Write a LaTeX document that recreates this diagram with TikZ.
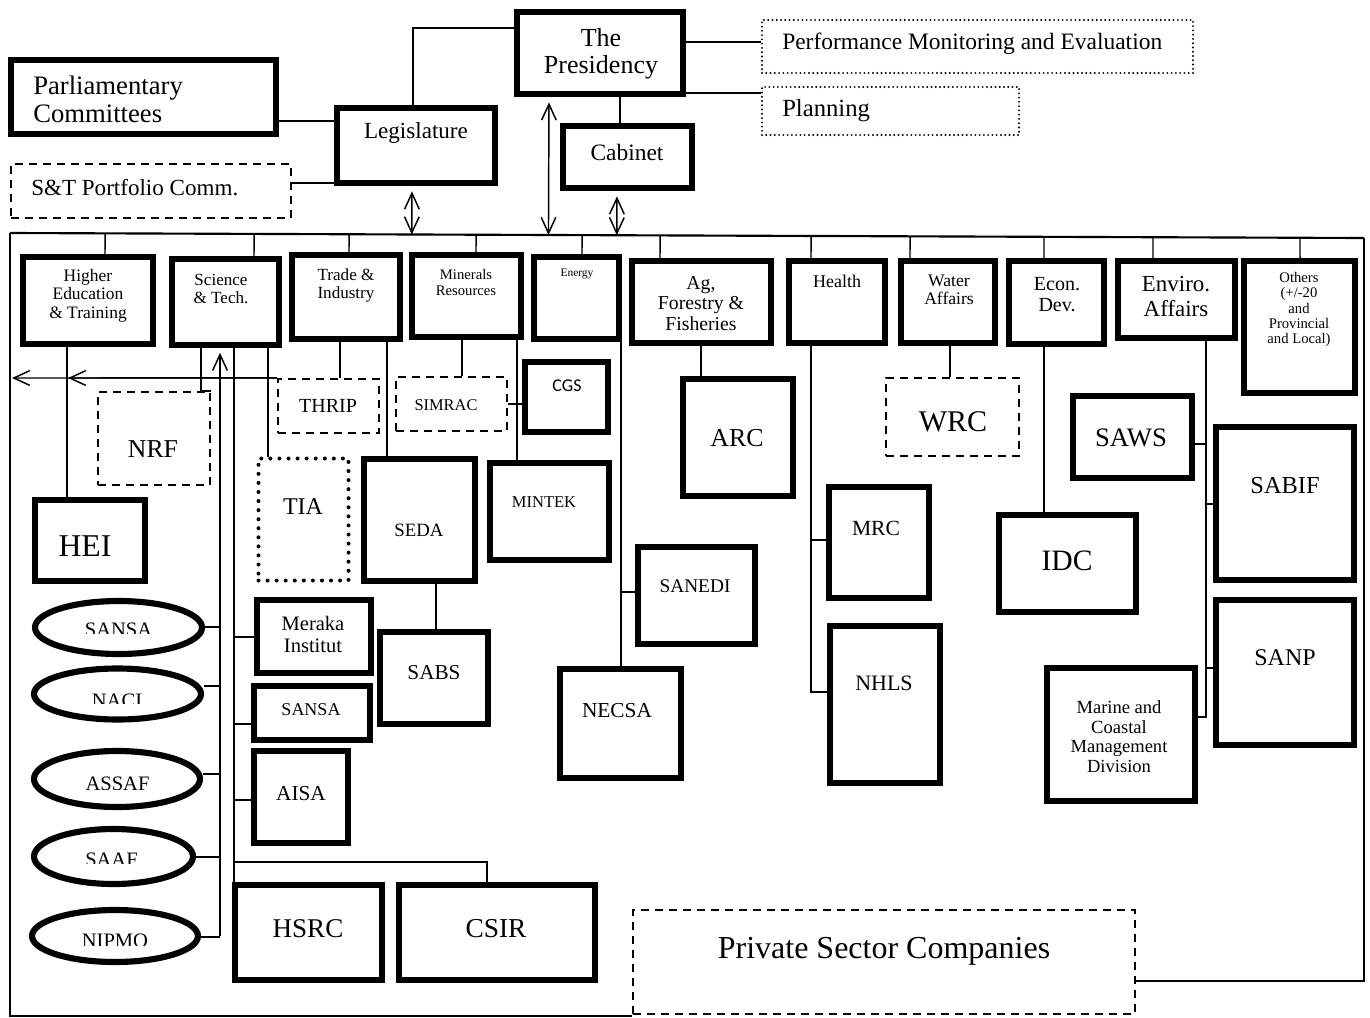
\documentclass[tikz,border=0pt]{standalone}
\usepackage{fontspec}
\setmainfont{Liberation Serif}
\newfontfamily\cgsfont{Carlito}
\usetikzlibrary{arrows.meta,calc,shapes.geometric}
\newcommand{\fz}[1]{\fontsize{#1pt}{\fpeval{#1*1.05}pt}\selectfont}
\newcommand{\bx}[7]{%
  \pgfmathsetmacro{\bxcx}{(#2+#4)/2}%
  \pgfmathsetmacro{\bxcy}{(#3+#5)/2}%
  \pgfmathsetmacro{\bxw}{(#4-#2-#7)*0.75}%
  \pgfmathsetmacro{\bxh}{(#5-#3-#7)*0.75}%
  \node[#6, minimum width=\bxw pt, minimum height=\bxh pt] (#1) at (\bxcx,\bxcy) {};}
\newcommand{\tx}[5]{\node[txt,#4] (#1) at (#2,#3) {#5};}
\newcommand{\elp}[5]{\node[elb, minimum width=\fpeval{#4*0.75}pt, minimum height=\fpeval{#5*0.75}pt] (#1) at (#2,#3) {};}
\newcommand{\tick}[2]{\coordinate (tmp) at (#1.north -| #2,0);
  \draw[ln] (tmp) -- ($(busL)!(tmp)!(busR)$);}
% name, text top y, visible px, centre x, text
\newcommand{\cliptext}[5]{\begin{scope}\clip (40,\fpeval{#2-4}) rectangle (200,\fpeval{#2+#3});
  \node[txt,font=\fz{15.4},anchor=north] (#1) at (#4,#2) {#5};\end{scope}}
\tikzset{
 tb/.style={draw, line width=4.6pt, inner sep=0pt},
 db/.style={draw, line width=1.6pt, dash pattern=on 6pt off 4.5pt, inner sep=0pt},
 ob/.style={draw, line width=1.6pt, line cap=round, dash pattern=on 0pt off 3.2pt, inner sep=0pt},
 obb/.style={draw, line width=3pt, line cap=round, dash pattern=on 0pt off 6.8pt, inner sep=0pt},
 elb/.style={draw, ellipse, line width=4.6pt, inner sep=0pt},
 ln/.style={line width=1.1pt},
 txt/.style={inner sep=0pt, align=center},
}
\begin{document}
\begin{tikzpicture}[x=0.75pt,y=-0.75pt,>={Straight Barb[length=12pt,width=11pt]}]
\useasboundingbox (0,0) rectangle (1370,1017);
\fill[white] (0,0) rectangle (1370,1017);

% ---------- top level boxes ----------
\bx{pres}{514}{9}{686}{97}{tb}{6}
\bx{pme}{761}{19}{1194}{74}{ob}{2}
\bx{plan}{761}{86}{1020}{136}{ob}{2}
\bx{parl}{8}{57}{279}{137}{tb}{6}
\bx{leg}{334}{105}{498}{186}{tb}{6}
\bx{cab}{560}{123}{695}{191}{tb}{6}
\bx{stp}{10}{163}{292}{219}{db}{2}

\tx{pres-t}{601}{53.5}{font=\fz{19.5}}{The\\Presidency}
\tx{pme-t}{782}{44}{font=\fz{17.6},anchor=west}{Performance Monitoring and Evaluation}
\tx{plan-t}{782}{111}{font=\fz{18.5},anchor=west}{Planning}
\tx{parl-t}{33}{99.5}{font=\fz{20},anchor=west,align=left}{Parliamentary\\Committees}
\tx{leg-t}{416}{133}{font=\fz{17.3}}{Legislature}
\tx{cab-t}{627}{152}{font=\fz{17.6}}{Cabinet}
\tx{stp-t}{31}{188}{font=\fz{17.3},anchor=west}{S\&T Portfolio Comm.}

% ---------- departments ----------
\bx{hed}{20}{254}{156}{347}{tb}{6}
\bx{st}{169}{256}{282}{348}{tb}{6}
\bx{ti}{289}{252}{403}{342}{tb}{6}
\bx{min}{409}{252}{524}{340}{tb}{6}
\bx{en}{531}{254}{622}{342}{tb}{6}
\bx{ag}{629}{258}{774}{346}{tb}{6}
\bx{hl}{786}{258}{888}{346}{tb}{6}
\bx{wa}{898}{258}{998}{346}{tb}{6}
\bx{ed}{1006}{258}{1107}{347}{tb}{6}
\bx{env}{1115}{258}{1238}{341}{tb}{6}
\bx{oth}{1241}{258}{1358}{396}{tb}{6}

\tx{hed-t}{88}{295.5}{font=\fz{13.1}}{Higher\\Education\\\& Training}
\tx{st-t}{221}{289}{font=\fz{12.8}}{Science\\\& Tech.}
\tx{ti-t}{346}{285.5}{font=\fz{12.8}}{Trade \&\\Industry}
\tx{min-t}{466}{282.5}{font=\fz{11}}{Minerals\\Resources}
\tx{en-t}{577}{274}{font=\fz{8.6}}{Energy}
\tx{ag-t}{701}{303.5}{font=\fz{14.8}}{Ag,\\Forestry \&\\Fisheries}
\tx{hl-t}{837}{281}{font=\fz{13.5}}{Health}
\tx{wa-t}{949}{290}{font=\fz{13.2}}{Water\\Affairs}
\tx{ed-t}{1057}{294.5}{font=\fz{15}}{Econ.\\Dev.}
\tx{env-t}{1176}{296.5}{font=\fz{17.2}}{Enviro.\\Affairs}
\tx{oth-t}{1299}{309.5}{font=\fz{11}}{Others\\(+/-20\\and\\Provincial\\and Local)}

% ---------- agencies ----------
\bx{hei}{32}{497}{148}{584}{tb}{6}
\bx{nrf}{97}{391}{211}{486}{db}{2}
\bx{tia}{257}{457}{350}{582}{obb}{3}
\bx{thrip}{277}{378}{380}{434}{db}{2}
\bx{simrac}{395}{376}{508}{432}{db}{2}
\bx{cgs}{522}{359}{611}{435}{tb}{6}
\bx{seda}{361}{456}{478}{584}{tb}{6}
\bx{mintek}{487}{460}{612}{563}{tb}{6}
\bx{sanedi}{635}{544}{758}{647}{tb}{6}
\bx{necsa}{557}{666}{684}{781}{tb}{6}
\bx{arc}{680}{376}{796}{499}{tb}{6}
\bx{mrc}{826}{484}{932}{601}{tb}{6}
\bx{nhls}{827}{623}{943}{786}{tb}{6}
\bx{wrc}{885}{377}{1020}{457}{db}{2}
\bx{idc}{996}{512}{1139}{615}{tb}{6}
\bx{saws}{1070}{393}{1195}{481}{tb}{6}
\bx{sabif}{1213}{424}{1357}{583}{tb}{6}
\bx{sanp}{1213}{597}{1357}{748}{tb}{6}
\bx{mcm}{1044}{665}{1198}{804}{tb}{6}
\bx{sabs}{377}{629}{491}{727}{tb}{6}
\bx{mer}{254}{597}{374}{676}{tb}{6}
\bx{sansab}{251}{683}{373}{743}{tb}{6}
\bx{aisa}{251}{748}{351}{846}{tb}{6}
\bx{hsrc}{232}{882}{385}{983}{tb}{6}
\bx{csir}{396}{882}{598}{983}{tb}{6}
\bx{psc}{632}{909}{1136}{1015}{db}{2}

\tx{hei-t}{85}{546}{font=\fz{23.8}}{HEI}
\tx{nrf-t}{153}{449}{font=\fz{19.3}}{NRF}
\tx{tia-t}{303}{507}{font=\fz{18}}{TIA}
\tx{thrip-t}{328}{406}{font=\fz{15}}{THRIP}
\tx{simrac-t}{446}{405}{font=\fz{12.3}}{SIMRAC}
\tx{cgs-t}{567}{386}{font=\cgsfont\fz{13.5}}{CGS}
\tx{seda-t}{419}{530}{font=\fz{14.1}}{SEDA}
\tx{mintek-t}{544}{502}{font=\fz{12.4}}{MINTEK}
\tx{sanedi-t}{695}{586}{font=\fz{14.5}}{SANEDI}
\tx{necsa-t}{617}{711}{font=\fz{16}}{NECSA}
\tx{arc-t}{737}{438}{font=\fz{19.4}}{ARC}
\tx{mrc-t}{876}{528}{font=\fz{16.2}}{MRC}
\tx{nhls-t}{884}{683}{font=\fz{16.5}}{NHLS}
\tx{wrc-t}{953}{422}{font=\fz{22.5}}{WRC}
\tx{idc-t}{1067}{561}{font=\fz{22.2}}{IDC}
\tx{saws-t}{1131}{438}{font=\fz{20}}{SAWS}
\tx{sabif-t}{1285}{486}{font=\fz{18.3}}{SABIF}
\tx{sanp-t}{1285}{658}{font=\fz{18}}{SANP}
\tx{mcm-t}{1119}{736.5}{font=\fz{13.9}}{Marine and\\Coastal\\Management\\Division}
\tx{sabs-t}{434}{673}{font=\fz{15.9}}{SABS}
\tx{mer-t}{313}{634.5}{font=\fz{15.4}}{Meraka\\Institut}
\tx{sansab-t}{311}{710}{font=\fz{13.5}}{SANSA}
\tx{aisa-t}{301}{794}{font=\fz{16}}{AISA}
\tx{hsrc-t}{308}{929}{font=\fz{20.3}}{HSRC}
\tx{csir-t}{496}{929}{font=\fz{20.5}}{CSIR}
\tx{psc-t}{884}{951}{font=\fz{24}}{Private Sector Companies}

% ---------- ellipses ----------
\elp{esansa}{118.5}{627.5}{167}{53}
\elp{enaci}{117.5}{694}{167}{51}
\elp{eassaf}{117}{779}{166}{56}
\elp{esaaf}{113.5}{856.5}{159}{55}
\elp{enipmo}{115}{936}{166}{52}
\cliptext{esansa-t}{623}{10}{118.5}{SANSA}
\cliptext{enaci-t}{694}{9}{117}{NACI}
\cliptext{eassaf-t}{777}{12}{117.5}{ASSAF}
\cliptext{esaaf-t}{853}{10}{111.5}{SAAF}
\cliptext{enipmo-t}{934}{11}{115}{NIPMO}

% ---------- frame ----------
\coordinate (busL) at (10,233);
\coordinate (busR) at (1364,238);
\draw[line width=1.6pt] (busL) -- (busR);
\draw[ln] (busL) -- (10,1016) -- (psc.west |- 0,1016);
\draw[ln] (busR) -- (1364,981) -- (psc.east |- 0,981);

% ---------- top connectors ----------
\draw[ln] (pres.west |- 0,28) -| (leg.north -| 413,0);
\draw[ln] (parl.east |- 0,121) -- (leg.west |- 0,121);
\draw[ln] (stp.east |- 0,183) -- (leg.west |- 0,183);
\draw[ln] (pres.east |- 0,42) -- (pme.west |- 0,42);
\draw[ln] (pres.east |- 0,93) -- (plan.west |- 0,93);
\draw[ln] (pres.south -| 620,0) -- (cab.north -| 620,0);
\coordinate (tmp) at (leg.south -| 412,0);
\draw[ln,<->,shorten <=4pt] (tmp) -- ($(busL)!(tmp)!(busR)$);
\coordinate (tmp) at (pres.south -| 549,0);
\draw[ln,<->,shorten <=4pt] (tmp) -- ($(busL)!(tmp)!(busR)$);
\coordinate (tmp) at (cab.south -| 617,0);
\draw[ln,<->,shorten <=4pt] (tmp) -- ($(busL)!(tmp)!(busR)$);

% ---------- department ticks ----------
\tick{hed}{105}
\tick{st}{254}
\tick{ti}{349}
\tick{min}{476}
\tick{en}{582}
\tick{ag}{660}
\tick{hl}{811}
\tick{wa}{910}
\tick{ed}{1044}
\tick{env}{1153}
\tick{oth}{1300}

% ---------- agency connectors ----------
\coordinate (arrL) at (12,378);
\coordinate (arrM) at (68,378);
\draw[ln,->] (thrip.north west) -- (arrL);
\draw[ln,->] (thrip.north west) -- (arrM);
\draw[ln] (hed.south -| 67,0) -- (hei.north -| 67,0);
% Science & Tech
\draw[ln] (st.south -| 201,0) |- (nrf.north east);
\draw[ln,->,shorten >=3.5pt] (enipmo.east -| 220,0) -- (st.south -| 220,0);
\draw[ln] (st.south -| 234,0) -- (hsrc.north -| 234,0);
\draw[ln] (st.south -| 268,0) -- (tia.north -| 268,0);
\draw[ln] (esansa.east |- 0,627) -- (220,627);
\draw[ln] (enaci.east |- 0,686) -- (220,686);
\draw[ln] (eassaf.east |- 0,774) -- (220,774);
\draw[ln] (esaaf.east |- 0,857) -- (220,857);
\draw[ln] (enipmo.east |- 0,937) -- (220,937);
\draw[ln] (mer.west |- 0,637) -- (234,637);
\draw[ln] (sansab.west |- 0,724) -- (234,724);
\draw[ln] (aisa.west |- 0,800) -- (234,800);
\draw[ln] (234,862) -| (csir.north -| 487,0);
% Trade & Industry
\draw[ln] (ti.south -| 340,0) -- (thrip.north -| 340,0);
\draw[ln] (ti.south -| 387,0) -- (seda.north -| 387,0);
\draw[ln] (seda.south -| 436,0) -- (sabs.north -| 436,0);
% Minerals
\draw[ln] (min.south -| 462,0) -- (simrac.north -| 462,0);
\draw[ln] (min.south -| 517,0) -- (mintek.north -| 517,0);
\draw[ln] (simrac.east) -- (cgs.west |- simrac.east);
% Energy
\draw[ln] (en.south -| 621,0) -- (necsa.north -| 621,0);
\draw[ln] (sanedi.west |- 0,592) -- (621,592);
% Ag, Water, Econ
\draw[ln] (ag.south -| 701,0) -- (arc.north -| 701,0);
\draw[ln] (wa.south -| 950,0) -- (wrc.north -| 950,0);
\draw[ln] (ed.south -| 1044,0) -- (idc.north -| 1044,0);
% Health
\draw[ln] (hl.south -| 811,0) |- (nhls.west |- 0,692);
\draw[ln] (mrc.west |- 0,540) -- (811,540);
% Enviro
\draw[ln] (env.south -| 1206,0) |- (mcm.east |- 0,717);
\draw[ln] (saws.east |- 0,444) -- (1206,444);
\draw[ln] (sabif.west |- 0,504) -- (1206,504);
\draw[ln] (sanp.west |- 0,668) -- (1206,668);
\end{tikzpicture}
\end{document}
